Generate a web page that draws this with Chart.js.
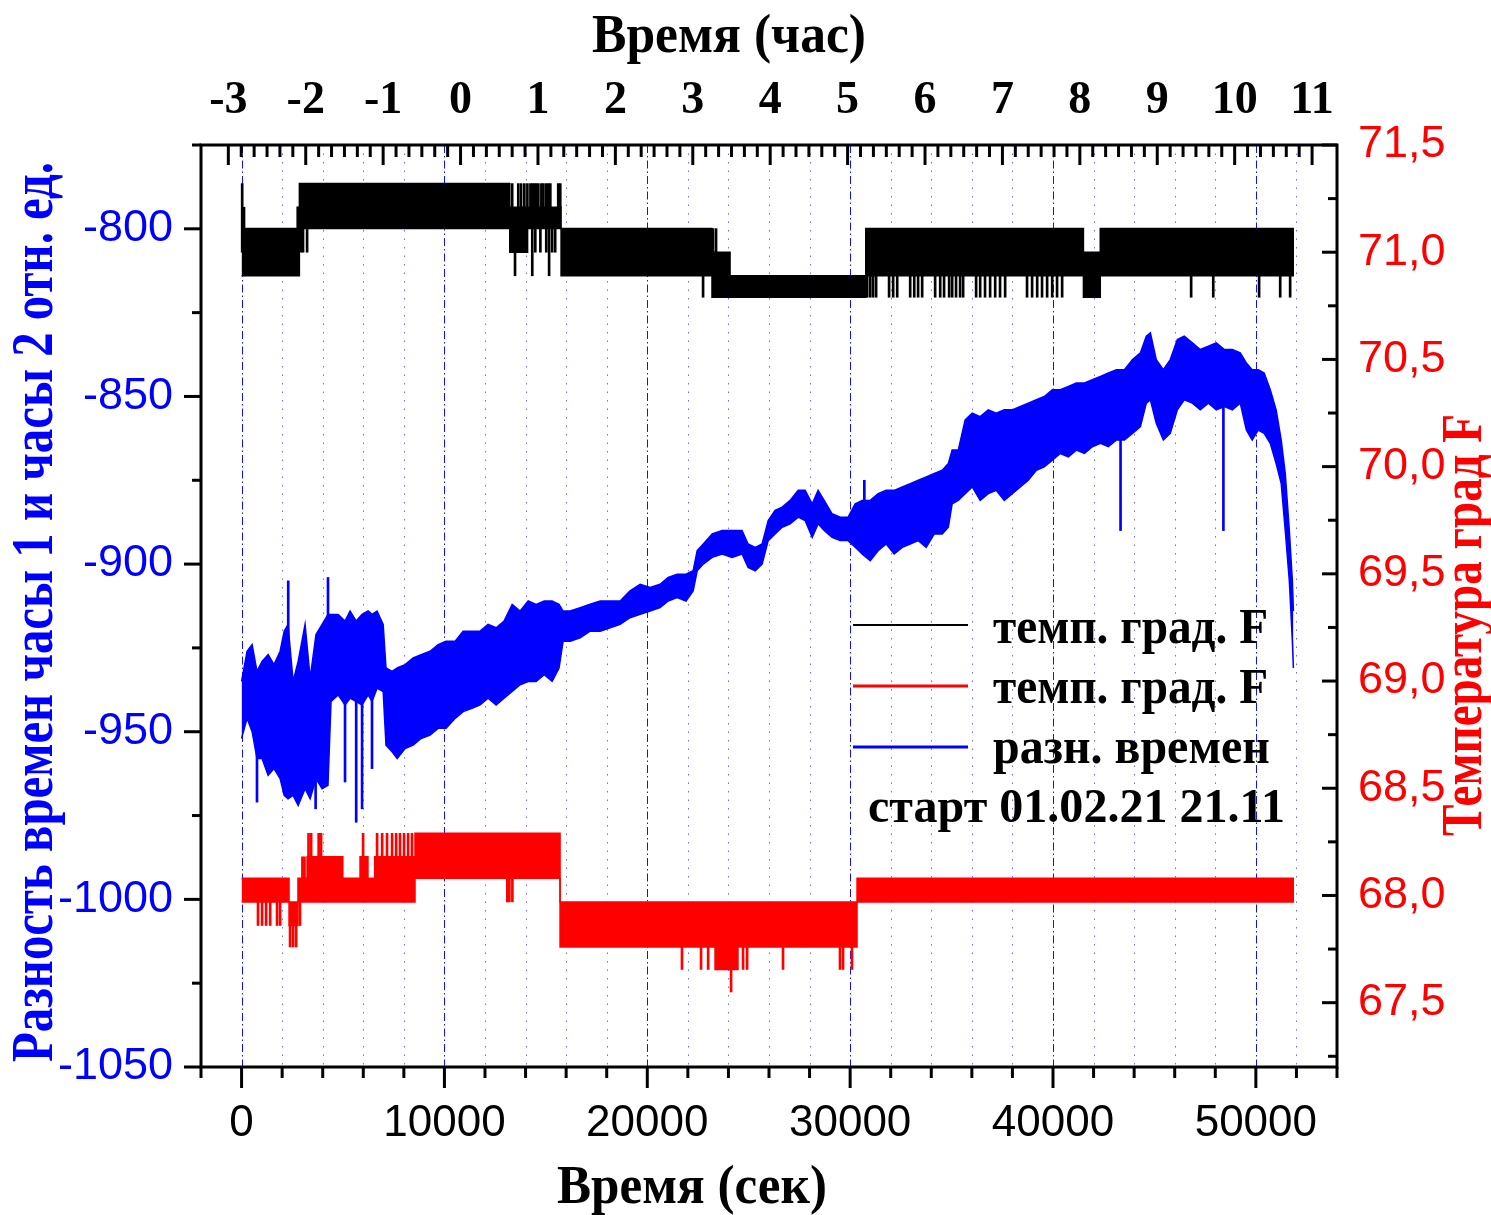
<!DOCTYPE html>
<html>
<head>
<meta charset="utf-8">
<title>Разность времен часы 1 и часы 2</title>
<script src="https://cdn.jsdelivr.net/npm/chart.js@4.4.1/dist/chart.umd.min.js"></script>
<style>
  html, body { margin: 0; padding: 0; background: #fff; }
  #chart { display: block; }
</style>
</head>
<body>
<canvas id="chart" width="1491" height="1215"></canvas>
<script>
// axis ticks
const secTicks = [0, 10000, 20000, 30000, 40000, 50000];
const hourTicks = [-3, -2, -1, 0, 1, 2, 3, 4, 5, 6, 7, 8, 9, 10, 11];
const diffTicks = [-1050, -1000, -950, -900, -850, -800];
const tempTicks = [67.5, 68.0, 68.5, 69.0, 69.5, 70.0, 70.5, 71.0, 71.5];

const titleTop = "Время (час)";
const titleBottom = "Время (сек)";
const titleLeft = "Разность времен часы 1 и часы 2 отн. ед.";
const titleRight = "Температура град F";
const legendLabels = ["темп. град. F", "темп. град. F", "разн. времен"];
const startNote = "старт 01.02.21 21.11";

// разн. времен: upper / lower edge of the noisy trace (sec, rel. units)
const diffTime = [
  0, 270, 520, 760, 1010, 1310, 1600, 1900, 2100, 2290,
  2540, 2790, 3130, 3380, 3670, 3970, 4260, 4410, 4760, 5100,
  5350, 5650, 5940, 6240, 6430, 6680, 6980, 7120, 7420, 7670,
  8060, 8460, 8850, 9290, 9690, 10080, 10530, 10920, 11360, 11760,
  12150, 12550, 12940, 13340, 13730, 14130, 14520, 14920, 15310, 15650,
  15850, 16200, 16690, 17180, 17680, 18170, 18660, 19150, 19650, 20140,
  20630, 21030, 21470, 21910, 22260, 22460, 22760, 23200, 23690, 24180,
  24670, 24970, 25320, 25660, 25960, 26300, 26650, 27040, 27440, 27780,
  28130, 28420, 28720, 29110, 29510, 29900, 30250, 30590, 30990, 31380,
  31780, 32170, 32570, 32960, 33360, 33750, 34150, 34540, 34840, 35030,
  35330, 35670, 36020, 36410, 36810, 37200, 37600, 37990, 38390, 38780,
  39180, 39570, 39970, 40360, 40760, 41150, 41550, 41940, 42340, 42730,
  43130, 43520, 43920, 44310, 44600, 44800, 45090, 45440, 45780, 46130,
  46470, 46870, 47260, 47660, 48050, 48450, 48840, 49230, 49530, 49820,
  50120, 50410, 50710, 51000, 51250, 51450, 51650, 51800, 51850
];
const diffHigh = [
  -935, -926, -924, -932, -929, -927, -930, -926, -920, -918,
  -935, -929, -918, -934, -921, -918, -915, -915, -915, -917,
  -914, -917, -915, -914, -915, -914, -918, -931, -932, -931,
  -930, -928, -927, -926, -924, -923, -923, -920, -920, -920,
  -918, -919, -917, -912, -914, -911, -912, -911, -911, -912,
  -914, -914, -913, -912, -911, -911, -911, -908, -906, -907,
  -906, -904, -903, -903, -902, -896, -894, -891, -890, -890,
  -890, -894, -895, -894, -887, -884, -883, -881, -878, -878,
  -882, -878, -881, -885, -886, -886, -882, -881, -881, -879,
  -878, -878, -877, -876, -875, -874, -873, -872, -870, -866,
  -866, -857, -855, -856, -854, -855, -854, -854, -853, -852,
  -851, -850, -848, -848, -847, -846, -846, -845, -844, -843,
  -842, -842, -839, -837, -832, -831, -839, -842, -839, -833,
  -832, -834, -836, -835, -834, -836, -836, -837, -840, -842,
  -842, -843, -848, -854, -863, -873, -890, -905, -914
];
const diffLow = [
  -952, -946, -950, -958, -958, -963, -961, -964, -969, -970,
  -969, -972, -967, -970, -964, -967, -966, -941, -939, -942,
  -940, -941, -942, -939, -941, -937, -938, -954, -956, -958,
  -955, -954, -952, -951, -949, -949, -946, -944, -943, -942,
  -940, -942, -940, -938, -936, -935, -935, -933, -935, -931,
  -923, -923, -922, -920, -920, -919, -918, -916, -915, -914,
  -913, -911, -910, -911, -908, -902, -900, -898, -897, -898,
  -897, -901, -902, -900, -893, -891, -889, -888, -886, -887,
  -892, -888, -890, -892, -893, -893, -895, -897, -899, -896,
  -894, -897, -895, -894, -893, -895, -891, -891, -889, -882,
  -881, -879, -877, -881, -879, -878, -881, -879, -877, -875,
  -872, -871, -869, -867, -868, -866, -867, -865, -864, -865,
  -863, -863, -861, -859, -852, -851, -858, -863, -861, -854,
  -851, -852, -854, -852, -854, -853, -854, -852, -860, -863,
  -860, -861, -864, -870, -876, -890, -905, -923, -931
];
// isolated spikes of the blue trace
const diffSpikeTime = [760, 2300, 3650, 4260, 5100, 5650, 5940, 6430, 30700, 43330, 48400];
const diffSpikeLow = [-971, -925, -973, -920, -965, -977, -973, -961, -885, -890, -890];
const diffSpikeHigh = [-955, -905, -960, -904, -940, -940, -940, -940, -875, -862, -853];

// темп. 1 (black), stepped band between two quantisation levels, deg F
const temp1Time = [0, 2740, 2850, 13220, 14100, 15750, 23190, 24080, 30770, 41500, 42330, 51880];
const temp1High = [71.11, 71.21, 71.32, 71.21, 71.21, 71.11, 71.0, 70.89, 71.11, 71.0, 71.11, 71.11];
const temp1Low = [70.89, 70.89, 71.11, 71.0, 71.11, 70.89, 70.79, 70.79, 70.89, 70.79, 70.89, 70.89];
const temp1SpikeTime = [
  30, 120, 2930, 3030, 3230, 13340, 13480, 13640, 13780, 13940,
  14090, 14240, 14330, 14430, 14480, 14530, 14630, 14730, 14780, 14880,
  15020, 15120, 15160, 15220, 15310, 15460, 15610, 15710, 22750, 23240,
  23390, 30840, 30990, 31130, 31280, 31920, 32120, 32320, 32960, 33160,
  33350, 33550, 34190, 34440, 34630, 34880, 35030, 35220, 35420, 35570,
  36210, 36410, 36650, 36900, 37150, 37390, 37640, 38720, 38970, 39220,
  39460, 39710, 39960, 40200, 40450, 46810, 47900, 50160, 51200, 51690
];
const temp1SpikeLow = [
  71.0, 71.0, 71.0, 71.0, 71.0, 71.21, 70.89, 71.21, 71.21, 71.21,
  71.21, 71.21, 70.89, 71.21, 71.0, 71.21, 71.21, 71.0, 71.21, 71.21,
  71.0, 71.21, 70.89, 71.21, 71.0, 71.0, 71.21, 71.21, 70.79, 71.0,
  71.0, 70.79, 70.79, 70.79, 70.79, 70.79, 70.79, 70.79, 70.79, 70.79,
  70.79, 70.79, 70.79, 70.79, 70.79, 70.79, 70.79, 70.79, 70.79, 70.79,
  70.79, 70.79, 70.79, 70.79, 70.79, 70.79, 70.79, 70.79, 70.79, 70.79,
  70.79, 70.79, 70.79, 70.79, 70.79, 70.79, 70.79, 70.79, 70.79, 70.79
];
const temp1SpikeHigh = [
  71.32, 71.21, 71.11, 71.11, 71.11, 71.32, 71.11, 71.32, 71.32, 71.32,
  71.32, 71.32, 71.32, 71.32, 71.11, 71.32, 71.32, 71.11, 71.32, 71.32,
  71.32, 71.32, 71.11, 71.32, 71.11, 71.11, 71.32, 71.32, 70.89, 71.11,
  71.11, 70.89, 70.89, 70.89, 70.89, 70.89, 70.89, 70.89, 70.89, 70.89,
  70.89, 70.89, 70.89, 70.89, 70.89, 70.89, 70.89, 70.89, 70.89, 70.89,
  70.89, 70.89, 70.89, 70.89, 70.89, 70.89, 70.89, 70.89, 70.89, 70.89,
  70.89, 70.89, 70.89, 70.89, 70.89, 70.89, 70.89, 70.89, 70.89, 70.89
];

// темп. 2 (red)
const temp2Time = [0, 2340, 2780, 3230, 4990, 5840, 6230, 6560, 8550, 15700, 23340, 24470, 30340, 51880];
const temp2High = [68.08, 67.97, 68.08, 68.18, 68.08, 68.18, 68.08, 68.18, 68.29, 67.97, 67.97, 67.97, 68.08, 68.08];
const temp2Low = [67.97, 67.86, 67.97, 67.97, 67.97, 67.97, 67.97, 67.97, 68.08, 67.76, 67.655, 67.76, 67.97, 67.97];
const temp2SpikeTime = [
  810, 1010, 1210, 1410, 1750, 1900, 2390, 2540, 2690, 2880,
  3000, 3100, 3300, 3430, 3800, 3920, 5990, 6680, 6930, 7170,
  7420, 7620, 7810, 8010, 8210, 8400, 13100, 13200, 13350, 21710,
  22650, 23000, 24130, 24720, 24920, 26690, 29500, 29650, 30090
];
const temp2SpikeLow = [
  67.86, 67.86, 67.86, 67.86, 67.86, 67.86, 67.76, 67.76, 67.76, 67.86,
  68.08, 68.08, 68.18, 68.18, 68.18, 68.18, 68.18, 68.18, 68.18, 68.18,
  68.18, 68.18, 68.18, 68.18, 68.18, 68.18, 67.97, 67.97, 67.97, 67.655,
  67.655, 67.655, 67.55, 67.655, 67.655, 67.655, 67.655, 67.655, 67.655
];
const temp2SpikeHigh = [
  67.97, 67.97, 67.97, 67.97, 67.97, 67.97, 67.86, 67.86, 67.86, 67.97,
  68.18, 68.18, 68.29, 68.29, 68.29, 68.29, 68.29, 68.29, 68.29, 68.29,
  68.29, 68.29, 68.29, 68.29, 68.29, 68.29, 68.08, 68.08, 68.08, 67.76,
  67.76, 67.76, 67.655, 67.76, 67.76, 67.76, 67.76, 67.76, 67.76
];

const BLUE = "#0000ff";
const RED = "#ff0000";
const BLACK = "#000000";
const SERIF = '"Liberation Serif", "Times New Roman", serif';
const SANS = '"Liberation Sans", Arial, sans-serif';

function edge(t, v) {
  return t.map((x, i) => ({ x: x, y: v[i] }));
}
function spikes(t, lo, hi) {
  return t.map((x, i) => ({ x: x, y: [lo[i], hi[i]] }));
}
function bandPair(t, hi, lo, color, axis, stepped, label) {
  const common = {
    type: "line",
    yAxisID: axis,
    borderColor: color,
    borderWidth: 1.5,
    pointRadius: 0,
    stepped: stepped,
    tension: 0,
  };
  return [
    Object.assign({}, common, { label: label, data: edge(t, hi), fill: false }),
    Object.assign({}, common, { data: edge(t, lo), backgroundColor: color, fill: "-1" }),
  ];
}
function spikeSet(t, lo, hi, color, axis) {
  return {
    type: "bar",
    yAxisID: axis,
    data: spikes(t, lo, hi),
    backgroundColor: color,
    borderWidth: 0,
    barThickness: 2,
    stack: "spikes",
  };
}

function fitText(ctx, text, x, y, font, color, width, align, angle) {
  ctx.save();
  ctx.font = font;
  ctx.fillStyle = color;
  ctx.textAlign = align;
  ctx.textBaseline = "alphabetic";
  ctx.translate(x, y);
  ctx.rotate(angle || 0);
  ctx.scale(width / ctx.measureText(text).width, 1);
  ctx.fillText(text, 0, 0);
  ctx.restore();
}

function line(ctx, x1, y1, x2, y2) {
  ctx.beginPath();
  ctx.moveTo(x1, y1);
  ctx.lineTo(x2, y2);
  ctx.stroke();
}

const decor = {
  id: "decor",
  beforeDatasetsDraw(chart) {
    const { ctx, chartArea: a } = chart;
    const sx = chart.scales.x;
    ctx.save();
    ctx.lineWidth = 1;
    for (let t = 0; t < sx.max; t += 2000) {
      const px = Math.round(sx.getPixelForValue(t)) + 0.5;
      if (secTicks.includes(t)) {
        ctx.strokeStyle = "#1010ff";
        ctx.setLineDash([8, 3, 1.5, 3]);
      } else {
        ctx.strokeStyle = "rgba(60,60,255,0.75)";
        ctx.setLineDash([1.5, 7]);
      }
      line(ctx, px, a.top, px, a.bottom);
    }
    ctx.restore();
  },
  afterDatasetsDraw(chart) {
    const { ctx, chartArea: a, scales } = chart;
    ctx.save();
    ctx.strokeStyle = BLACK;
    ctx.lineWidth = 3;
    ctx.strokeRect(a.left, a.top, a.right - a.left, a.bottom - a.top);
    // bottom: seconds, outward
    for (let t = scales.x.min; t <= scales.x.max; t += 2000) {
      const px = scales.x.getPixelForValue(t);
      line(ctx, px, a.bottom, px, a.bottom + (t % 10000 === 0 ? 21 : 11));
    }
    // top: hours, inward, minor every 10 min
    for (let m = -180; m <= 660; m += 10) {
      const px = scales.x2.getPixelForValue(m / 60);
      line(ctx, px, a.top, px, a.top + (m % 60 === 0 ? 20 : 12));
    }
    // left: outward
    for (let v = -1050; v <= -775; v += 25) {
      const py = scales.y.getPixelForValue(v);
      line(ctx, a.left, py, a.left - (v % 50 === 0 ? 17 : 9), py);
    }
    // right: inward
    for (let v = 67.25; v <= 71.5; v += 0.25) {
      const py = scales.yR.getPixelForValue(v);
      const major = Math.abs(v * 2 - Math.round(v * 2)) < 1e-6;
      line(ctx, a.right, py, a.right - (major ? 15 : 9), py);
    }
    ctx.restore();
  },
  afterDraw(chart) {
    const ctx = chart.ctx;
    fitText(ctx, titleTop, 729, 52, "bold 54px " + SERIF, BLACK, 274, "center");
    fitText(ctx, titleBottom, 692, 1203, "bold 54px " + SERIF, BLACK, 270, "center");
    fitText(ctx, titleLeft, 52, 612, "bold 60px " + SERIF, BLUE, 900, "center", -Math.PI / 2);
    fitText(ctx, titleRight, 1481, 625, "bold 56px " + SERIF, RED, 422, "center", -Math.PI / 2);

    // legend inside the plot
    const rows = [
      { color: BLACK, width: 2, y: 625, base: 643, text: legendLabels[0], w: 275 },
      { color: RED, width: 3, y: 686, base: 703, text: legendLabels[1], w: 275 },
      { color: BLUE, width: 3, y: 747, base: 763, text: legendLabels[2], w: 277 },
    ];
    ctx.save();
    rows.forEach((r) => {
      ctx.strokeStyle = r.color;
      ctx.lineWidth = r.width;
      line(ctx, 853, r.y, 968, r.y);
      fitText(ctx, r.text, 993, r.base, "bold 50px " + SERIF, BLACK, r.w, "left");
    });
    ctx.restore();
    fitText(ctx, startNote, 868, 822, "bold 48px " + SERIF, BLACK, 417, "left");
  },
};

new Chart(document.getElementById("chart"), {
  type: "line",
  data: {
    datasets: [
      ...bandPair(diffTime, diffHigh, diffLow, BLUE, "y", false, legendLabels[2]),
      ...bandPair(temp1Time, temp1High, temp1Low, BLACK, "yR", true, legendLabels[0]),
      ...bandPair(temp2Time, temp2High, temp2Low, RED, "yR", true, legendLabels[1]),
      spikeSet(diffSpikeTime, diffSpikeLow, diffSpikeHigh, BLUE, "y"),
      spikeSet(temp1SpikeTime, temp1SpikeLow, temp1SpikeHigh, BLACK, "yR"),
      spikeSet(temp2SpikeTime, temp2SpikeLow, temp2SpikeHigh, RED, "yR"),
    ],
  },
  options: {
    responsive: false,
    animation: false,
    events: [],
    layout: { padding: 0 },
    plugins: {
      legend: { display: false },
      tooltip: { enabled: false },
      title: { display: false },
    },
    scales: {
      x: {
        type: "linear",
        position: "bottom",
        offset: false,
        min: -2000,
        max: 54000,
        afterBuildTicks: (s) => { s.ticks = secTicks.map((v) => ({ value: v })); },
        afterFit: (s) => { s.height = 148; },
        grid: { display: false, drawTicks: false, offset: false },
        border: { display: false },
        ticks: {
          color: BLACK,
          padding: 30,
          maxRotation: 0,
          autoSkip: false,
          font: { family: SANS, size: 44 },
          callback: (v) => String(v),
        },
      },
      x2: {
        type: "linear",
        position: "top",
        offset: false,
        min: -3.353,
        max: 11.322,
        afterBuildTicks: (s) => { s.ticks = hourTicks.map((v) => ({ value: v })); },
        afterFit: (s) => { s.height = 145; },
        grid: { display: false, drawTicks: false },
        border: { display: false },
        ticks: {
          color: BLACK,
          padding: 16,
          maxRotation: 0,
          autoSkip: false,
          font: { family: SERIF, size: 46, weight: "bold" },
          callback: (v) => String(v),
        },
      },
      y: {
        type: "linear",
        position: "left",
        min: -1050,
        max: -775,
        afterBuildTicks: (s) => { s.ticks = diffTicks.map((v) => ({ value: v })); },
        afterFit: (s) => { s.width = 201; },
        grid: { display: false, drawTicks: false },
        border: { display: false },
        ticks: {
          color: BLUE,
          padding: 28,
          autoSkip: false,
          font: { family: SANS, size: 45 },
          callback: (v) => String(v),
        },
      },
      yR: {
        type: "linear",
        position: "right",
        min: 67.2,
        max: 71.5,
        afterBuildTicks: (s) => { s.ticks = tempTicks.map((v) => ({ value: v })); },
        afterFit: (s) => { s.width = 154; },
        grid: { display: false, drawTicks: false },
        border: { display: false },
        ticks: {
          color: RED,
          padding: 21,
          autoSkip: false,
          font: { family: SANS, size: 45 },
          callback: (v) => v.toFixed(1).replace(".", ","),
        },
      },
    },
  },
  plugins: [decor],
});
</script>
</body>
</html>
